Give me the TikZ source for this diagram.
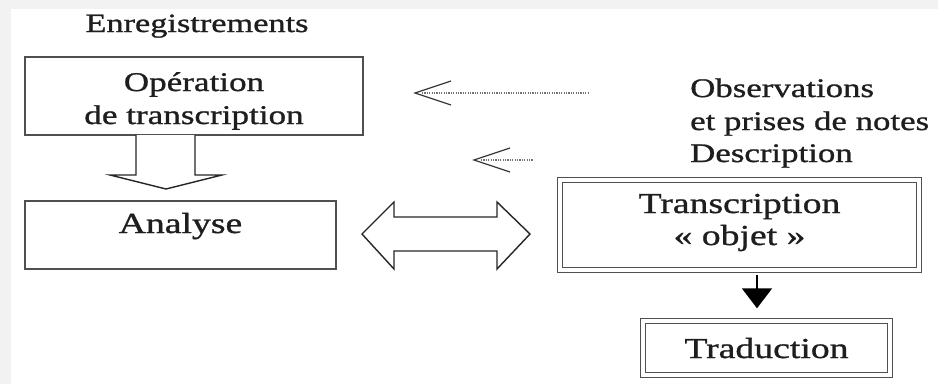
\documentclass[tikz,border=0pt]{standalone}
\usepackage{fontspec}
\setmainfont{Liberation Serif}[FakeStretch=1.3, FakeBold=1.0]
\usetikzlibrary{arrows.meta,calc}
\definecolor{edgegray}{HTML}{F2F2F2}
\definecolor{linegray}{HTML}{505050}
\definecolor{textgray}{HTML}{1E1E1E}
\tikzset{
  plainbox/.style={draw=linegray, line width=1.5pt, inner sep=0pt, text=textgray, align=center},
  dblbox/.style={draw=linegray, line width=1.4pt, double, double distance=3.2pt, inner sep=0pt, text=textgray, align=center},
  lbl/.style={inner sep=0pt, text=textgray},
  hollow/.style={draw=black!85, line width=1.4pt, fill=white, line join=miter},
  dotline/.style={draw=black!55, line width=1.2pt, dash pattern=on 1.2pt off 1.2pt},
  chevron/.style={draw=black!80, line width=1.2pt},
  blackarrow/.style={draw=black, line width=1.8pt, -{Triangle[width=30pt,length=20pt]}}
}
\begin{document}
\begin{tikzpicture}[x=1pt,y=-1pt]
\useasboundingbox (0,0) rectangle (938,384);
\fill[white] (0,0) rectangle (938,384);
\fill[edgegray] (0,0) rectangle (938,9);
\fill[edgegray] (0,0) rectangle (11,384);

% text labels
\node[lbl, anchor=base, font=\fontsize{26.4}{32}\selectfont] (enr) at (197,32) {Enregistrements};
\node[lbl, anchor=base west, font=\fontsize{26.8}{32}\selectfont] (obs) at (690,97) {Observations};
\node[lbl, anchor=base west, font=\fontsize{26.8}{32}\selectfont] (prises) at (690,130) {et prises de notes};
\node[lbl, anchor=base west, font=\fontsize{26.8}{32}\selectfont] (desc) at (690,162) {Description};

% boxes
\node[plainbox, minimum width=338pt, minimum height=78pt, font=\fontsize{27}{33}\selectfont] (op) at (194,96)
  {\rule{0pt}{31pt}Opération\\de transcription\rule[-8pt]{0pt}{8pt}};
\node[plainbox, minimum width=311pt, minimum height=68pt, text height=20pt, text depth=24pt, font=\fontsize{29}{33}\selectfont] (an) at (180.5,235) {Analyse};
\node[dblbox, minimum width=359pt, minimum height=90pt, font=\fontsize{29}{32}\selectfont] (tr) at (739.5,225)
  {\rule{0pt}{28pt}Transcription\\« objet »\rule[-20pt]{0pt}{20pt}};
\node[dblbox, minimum width=247pt, minimum height=54pt, text height=22pt, text depth=2pt, font=\fontsize{29}{33}\selectfont] (trad) at (766.5,348) {Traduction};

% hollow down arrow from op to an
\draw[hollow] (136,135) -- (136,175) -- (110,175) -- (166,189) -- (222,175) -- (195,175) -- (195,135);

% hollow double arrow between an and tr
\draw[hollow] (362,234) -- (394,202) -- (394,217) -- (497,217) -- (497,202) -- (530,234)
  -- (497,269) -- (497,251) -- (394,251) -- (394,269) -- cycle;

% dotted arrows
\draw[dotline] (422,93) -- (588,93);
\draw[chevron] (451,81) -- (415,93) -- (451,105);
\draw[dotline] (481,160) -- (533,160);
\draw[chevron] (510,148) -- (474,160) -- (510,172);

% black arrow from tr to trad
\coordinate (ax) at (757,0);
\draw[blackarrow, shorten <=4pt, shorten >=12pt] (tr.south -| ax) -- (trad.north -| ax);
\end{tikzpicture}
\end{document}
